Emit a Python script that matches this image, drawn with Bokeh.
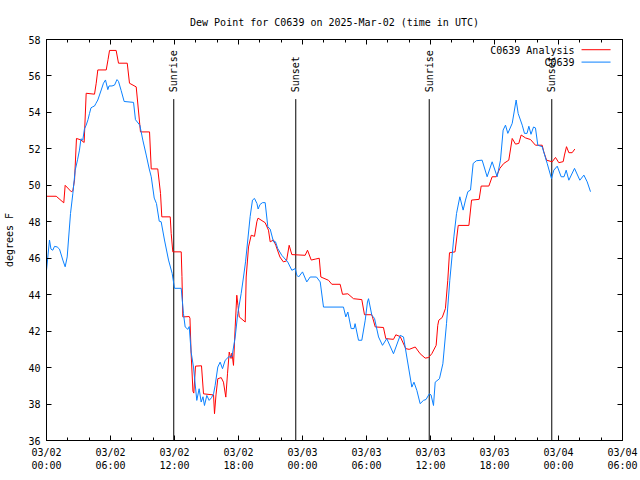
from math import pi
from bokeh.plotting import figure
from bokeh.models import Range1d, LinearAxis, FixedTicker
from bokeh.embed import file_html
from bokeh.resources import INLINE
from bokeh.core.properties import value

# ---------------- data (hours since 2025-03-02 00:00 UTC) ----------------
analysis_hours = [0.0, 0.91, 1.62, 1.75, 2.32, 2.47, 2.63, 2.81, 3.19, 3.53, 3.72, 4.5, 4.66, 4.81,
                  5.6, 5.77, 5.91, 6.53, 6.75, 7.57, 7.78, 8.41, 8.81, 9.66, 9.82, 10.43, 10.69,
                  10.81, 11.6, 11.69, 11.84, 12.63, 12.7, 12.78, 13.38, 13.45, 13.56, 13.73, 13.81,
                  13.97, 14.53, 14.72, 15.66, 15.75, 15.89, 16.06, 16.38, 16.59, 16.81, 16.97, 17.13,
                  17.3, 17.39, 17.53, 17.69, 17.84, 17.95, 18.07, 18.63, 18.72, 18.94, 19.19, 19.5,
                  19.72, 19.83, 20.5, 20.81, 20.97, 21.28, 21.5, 21.88, 22.2, 22.5, 22.75, 23.0,
                  24.25, 24.47, 24.82, 25.19, 25.57, 25.72, 26.44, 26.75, 27.53, 27.75, 28.25, 28.78,
                  29.56, 29.81, 30.5, 30.82, 31.59, 31.81, 32.53, 32.75, 33.16, 33.68, 34.0, 34.57,
                  35.03, 35.5, 35.81, 36.12, 36.53, 36.68, 36.78, 37.1, 37.4, 37.62, 37.78, 38.3,
                  38.6, 39.6, 39.85, 40.56, 40.75, 41.47, 41.78, 42.16, 42.5, 42.87, 43.34,
                  43.66, 43.97, 44.28, 44.5, 44.91, 45.38, 45.84, 46.47, 46.62, 46.88, 47.41, 47.72,
                  48.03, 48.44, 48.56, 48.75, 48.97, 49.28, 49.53]
analysis_dewpt = [49.4, 49.4, 49.04, 50.0, 49.65, 49.7, 50.3, 52.57, 52.5, 52.35, 55.05, 55.0, 55.6, 56.33,
                  56.33, 56.9, 57.4, 57.4, 56.7, 56.7, 55.6, 55.4, 52.93, 52.93, 50.9, 50.9, 49.55,
                  48.27, 48.27, 47.36, 46.35, 46.35, 45.0, 42.78, 42.8, 42.7, 40.76, 38.7, 38.6,
                  40.08, 40.1, 38.56, 38.5, 37.47, 38.5, 39.39, 39.45, 39.2, 38.38, 39.66, 40.85,
                  40.5, 40.8, 40.12, 42.23, 43.97, 43.4, 42.78, 42.5, 44.97, 46.62, 47.26, 47.2,
                  48.0, 48.2, 47.95, 47.54, 46.9, 47.0, 46.7, 46.07, 45.8, 45.85, 46.71, 46.2,
                  46.16, 46.44, 45.9, 45.95, 46.0, 44.97, 44.79, 44.57, 44.57, 44.02, 44.05, 43.78,
                  43.73, 42.9, 42.9, 42.23, 42.2, 41.59, 41.55, 41.8, 41.7, 41.04, 41.0, 41.13,
                  40.76, 40.52, 40.55, 40.76, 41.22, 42.32, 42.6, 42.75, 43.24, 44.79, 46.3, 46.35,
                  47.8, 47.8, 49.19, 49.23, 49.96, 49.96, 50.47, 50.47, 50.93, 51.2, 51.38,
                  52.57, 52.26, 52.3, 52.76, 52.6, 52.51, 52.2, 52.2, 51.84, 51.38, 51.29, 51.53,
                  51.24, 51.3, 51.66, 52.12, 51.79, 51.79, 51.99]

obs_hours = [0.0, 0.28, 0.42, 0.59, 0.75, 1.0, 1.22, 1.53, 1.75, 1.94, 2.06, 2.25, 2.47, 2.69, 2.91,
             3.09, 3.23, 3.4, 3.56, 3.72, 3.89, 4.03, 4.17, 4.34, 4.5, 4.64, 4.81, 5.13, 5.34, 5.53,
             5.75, 5.86, 6.14, 6.38, 6.61, 6.75, 7.0, 7.28, 8.16, 8.34, 8.75, 9.03, 9.35, 9.63, 9.82,
             10.1, 10.31, 10.57, 10.75, 11.06, 11.44, 11.78, 12.0, 12.63, 12.84, 13.0, 13.25, 13.38,
             13.56, 13.78, 14.09, 14.31, 14.5, 14.67, 14.81, 15.03, 15.25, 15.47, 15.66, 15.81,
             16.06, 16.28, 16.5, 16.75, 17.06, 17.39, 17.69, 17.93, 18.25, 18.47, 18.66, 18.87,
             19.09, 19.31, 19.5, 19.73, 19.84, 20.02, 20.25, 20.5, 20.75, 20.97, 21.28, 21.47,
             21.68, 22.06, 22.62, 23.0, 23.32, 23.47, 23.63, 24.0, 24.4, 24.72, 25.31, 25.66,
             25.97, 27.84, 28.06, 28.25, 28.56, 28.83, 28.93, 29.25, 29.56, 29.88, 30.09, 30.19,
             30.5, 30.75, 31.13, 31.5, 31.9, 32.53, 33.16, 33.47, 33.78, 34.25, 34.45, 34.72,
             35.03, 35.34, 35.58, 35.89, 36.05, 36.28, 36.44, 36.84, 37.16, 37.5, 37.81, 38.19,
             38.44, 38.75, 39.06, 39.28, 39.5, 39.75, 40.0, 40.31, 40.84, 41.31, 41.78, 42.25,
             42.56, 42.81, 43.03, 43.25, 43.66, 44.03, 44.22, 44.6, 44.81, 45.05, 45.22, 45.42,
             45.66, 45.84, 46.06, 46.47, 46.94, 47.34, 47.56, 47.88, 48.25, 48.52, 48.72, 48.97,
             49.5, 50.0, 50.38, 50.69, 51.0]
obs_dewpt = [45.34, 47.0, 46.5, 46.44, 46.65, 46.62, 46.5, 45.9, 45.53, 46.07, 47.0, 48.45, 49.55, 50.83, 51.4,
             51.93, 52.55, 52.48, 53.1, 53.3, 53.6, 53.94, 54.25, 54.31, 54.35, 54.5, 54.68, 55.23, 55.6, 55.78,
             55.25, 55.45, 55.45, 55.5, 55.8, 55.7, 55.2, 54.6, 54.55, 53.6, 53.3, 52.48, 51.66, 50.9, 50.47,
             49.3, 49.0, 48.03, 48.0, 47.0, 45.9, 45.17, 44.35, 44.35, 42.96, 42.23, 42.1, 42.25,
             40.85, 40.03, 38.2, 38.84, 38.11, 38.4, 37.92, 38.47, 38.2, 38.35, 38.56, 39.02,
             40.03, 40.3, 39.94, 40.4, 40.58, 40.6, 41.68, 42.96, 44.06, 44.97, 45.8, 47.0,
             48.28, 49.19, 49.28, 49.0, 48.7, 48.95, 49.05, 49.05, 47.72, 47.6, 46.9, 46.9,
             46.53, 46.16, 45.79, 45.34, 45.43, 45.07, 44.97, 45.25, 44.7, 44.97, 44.97, 44.7,
             43.32, 43.32, 42.78, 43.05, 42.14, 42.14, 42.41, 41.5, 41.5, 42.6, 43.6, 43.78,
             42.87, 42.7, 41.68, 41.22, 41.59, 40.76, 41.77, 41.68, 40.58, 38.93, 39.2, 38.75,
             38.02, 38.2, 38.25, 38.56, 38.5, 37.92, 39.2, 39.39, 40.21, 42.41, 44.79, 47.17,
             48.45, 49.37, 48.64, 49.19, 49.65, 49.74, 51.2, 51.35, 51.38, 50.47, 51.29, 50.47,
             51.38, 53.03, 53.3, 52.85, 53.4, 54.68, 53.94, 53.3, 52.85, 52.85, 53.24, 52.8,
             53.2, 53.15, 52.2, 52.12, 51.2, 50.37, 50.83, 51.05, 50.47, 50.47, 50.83, 50.28,
             50.93, 50.28, 50.56, 50.19, 49.65]

sun_event_hours = [11.93, 23.37, 35.88, 47.37]
sun_event_names = ["Sunrise", "Sunset", "Sunrise", "Sunset"]

x_tick_hours = [0, 6, 12, 18, 24, 30, 36, 42, 48, 54]
x_tick_labels = ["03/02\n00:00", "03/02\n06:00", "03/02\n12:00", "03/02\n18:00",
                 "03/03\n00:00", "03/03\n06:00", "03/03\n12:00", "03/03\n18:00",
                 "03/04\n00:00", "03/04\n06:00"]
x_minor_hours = list(range(0, 55, 2))
y_ticks = [36, 38, 40, 42, 44, 46, 48, 50, 52, 54, 56, 58]

series_names = ["C0639 Analysis", "C0639"]
series_colors = ["#ff0000", "#0a80ff"]

FONT = "DejaVu Sans Mono"
FS = "10px"

p = figure(width=640, height=480, output_backend="svg", toolbar_location=None,
           x_range=Range1d(0, 54), y_range=Range1d(36, 58),
           min_border_left=46, min_border_right=18, min_border_top=39, min_border_bottom=40,
           background_fill_color="white", border_fill_color="white")
p.outline_line_color = "black"
p.outline_line_width = 1
p.xgrid.visible = False
p.ygrid.visible = False

p.title.text = "Dew Point for C0639 on 2025-Mar-02 (time in UTC)"
p.title.align = "center"
p.title.text_font = FONT
p.title.text_font_size = FS
p.title.text_font_style = "normal"
p.title.text_color = "black"
p.title.standoff = 24

xt = FixedTicker(ticks=x_tick_hours, minor_ticks=x_minor_hours)
yt = FixedTicker(ticks=y_ticks, minor_ticks=[])

def style_axis(ax):
    ax.major_tick_in = 5
    ax.major_tick_out = 0
    ax.minor_tick_in = 3
    ax.minor_tick_out = 0
    ax.axis_line_color = "black"
    ax.major_tick_line_color = "black"
    ax.minor_tick_line_color = "black"
    ax.major_label_text_font = FONT
    ax.major_label_text_font_size = FS
    ax.major_label_text_color = "black"

p.xaxis.ticker = xt
p.xaxis.major_label_overrides = {h: lab for h, lab in zip(x_tick_hours, x_tick_labels)}
style_axis(p.xaxis[0])
p.xaxis.major_label_standoff = 6

p.yaxis.ticker = yt
style_axis(p.yaxis[0])
p.yaxis.major_label_standoff = 6
p.yaxis.axis_label = "degrees F"
p.yaxis.axis_label_text_font = FONT
p.yaxis.axis_label_text_font_size = FS
p.yaxis.axis_label_text_font_style = "normal"
p.yaxis.axis_label_text_color = "black"
p.yaxis.axis_label_standoff = 10

top_ax = LinearAxis(ticker=FixedTicker(ticks=x_tick_hours, minor_ticks=x_minor_hours))
style_axis(top_ax)
top_ax.major_label_overrides = {h: "" for h in x_tick_hours}
top_ax.major_label_standoff = 0
p.add_layout(top_ax, "above")

right_ax = LinearAxis(ticker=FixedTicker(ticks=y_ticks, minor_ticks=[]))
style_axis(right_ax)
right_ax.major_label_overrides = {v: "" for v in y_ticks}
right_ax.major_label_standoff = 0
p.add_layout(right_ax, "right")

# sunrise / sunset markers
p.segment(x0=sun_event_hours, y0=[36] * 4, x1=sun_event_hours, y1=[54.73] * 4,
          line_color="black", line_width=1)
p.text(x=sun_event_hours, y=[55.1] * 4, text=sun_event_names, angle=pi / 2,
       text_align="left", text_baseline="middle", text_font=value(FONT),
       text_font_size=FS, text_color="black")

# data
p.line(analysis_hours, analysis_dewpt, line_color=series_colors[0], line_width=1)
p.line(obs_hours, obs_dewpt, line_color=series_colors[1], line_width=1)

# gnuplot-style key (top right)
p.text(x=[49.5, 49.5], y=[57.42, 56.74], text=series_names, text_align="right",
       text_baseline="middle", text_font=value(FONT), text_font_size=FS, text_color="black")
p.segment(x0=[50.16, 50.16], y0=[57.44, 56.76], x1=[52.88, 52.88], y1=[57.44, 56.76],
          line_color=series_colors, line_width=1)

open("out.html", "w").write(file_html(p, INLINE))
